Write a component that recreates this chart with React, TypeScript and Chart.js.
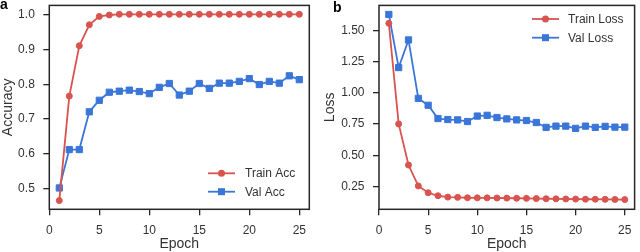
import React, { useEffect, useRef } from "react";
import { Chart, registerables } from "chart.js";

Chart.register(...registerables);

// ---------- data ----------
const epochs = [1, 2, 3, 4, 5, 6, 7, 8, 9, 10, 11, 12, 13, 14, 15, 16, 17, 18, 19, 20, 21, 22, 23, 24, 25];
const trainAcc = [0.467, 0.766, 0.91, 0.97, 0.994, 0.998, 1.0, 1.0, 1.0, 1.0, 1.0, 1.0, 1.0, 1.0, 1.0, 1.0, 1.0, 1.0, 1.0, 1.0, 1.0, 1.0, 1.0, 1.0, 1.0];
const valAcc = [0.503, 0.613, 0.613, 0.721, 0.754, 0.777, 0.78, 0.783, 0.779, 0.773, 0.791, 0.802, 0.769, 0.78, 0.802, 0.788, 0.803, 0.803, 0.808, 0.816, 0.799, 0.808, 0.803, 0.824, 0.813];
const trainLoss = [1.561, 0.752, 0.421, 0.253, 0.198, 0.174, 0.163, 0.161, 0.158, 0.157, 0.157, 0.156, 0.155, 0.154, 0.153, 0.151, 0.15, 0.149, 0.148, 0.147, 0.146, 0.146, 0.145, 0.144, 0.143];
const valLoss = [1.632, 1.205, 1.427, 0.957, 0.902, 0.795, 0.787, 0.784, 0.771, 0.815, 0.821, 0.803, 0.792, 0.784, 0.779, 0.763, 0.724, 0.734, 0.734, 0.716, 0.734, 0.724, 0.732, 0.726, 0.726];

const epochTicks = [0, 5, 10, 15, 20, 25];
const accTicks = [0.5, 0.6, 0.7, 0.8, 0.9, 1.0];
const lossTicks = [0.25, 0.5, 0.75, 1.0, 1.25, 1.5];

const accLabels = ["Train Acc", "Val Acc"];
const lossLabels = ["Train Loss", "Val Loss"];

// ---------- style ----------
const RED = "#d9534f";
const BLUE = "#3a76d8";
const INK = "#262626";
const TEXT = "#333333";
const FONT = "'Liberation Sans', Arial, Helvetica, sans-serif";

const framePlugin = {
  id: "frame",
  afterDatasetsDraw(chart: any) {
    const { ctx, chartArea: a } = chart;
    ctx.save();
    ctx.strokeStyle = INK;
    ctx.lineWidth = 1.5;
    ctx.strokeRect(a.left, a.top, a.right - a.left, a.bottom - a.top);
    ctx.restore();
  },
};

const innerLegendPlugin = {
  id: "innerLegend",
  afterDraw(chart: any, _args: any, opts: any) {
    const { ctx } = chart;
    ctx.save();
    chart.data.datasets.forEach((ds: any, i: number) => {
      const y = opts.y + i * opts.gap;
      ctx.strokeStyle = ds.borderColor;
      ctx.lineWidth = ds.borderWidth;
      ctx.beginPath();
      ctx.moveTo(opts.x, y);
      ctx.lineTo(opts.x + opts.len, y);
      ctx.stroke();
      const cx = opts.x + opts.len / 2;
      ctx.fillStyle = ds.pointBackgroundColor;
      if (ds.pointStyle === "rect") {
        ctx.fillRect(cx - 3.5, y - 3.5, 7, 7);
      } else {
        ctx.beginPath();
        ctx.arc(cx, y, 3.5, 0, Math.PI * 2);
        ctx.fill();
      }
      ctx.fillStyle = TEXT;
      ctx.font = `12px ${FONT}`;
      ctx.textBaseline = "middle";
      ctx.textAlign = "left";
      ctx.fillText(ds.label, opts.x + opts.len + opts.textGap, y + 0.5);
    });
    ctx.restore();
  },
};

const panelLabelPlugin = {
  id: "panelLabel",
  afterDraw(chart: any, _args: any, opts: any) {
    const { ctx } = chart;
    ctx.save();
    ctx.fillStyle = "#000";
    ctx.font = `bold 14px ${FONT}`;
    ctx.textBaseline = "alphabetic";
    ctx.textAlign = "left";
    ctx.fillText(opts.text, opts.x, opts.y);
    ctx.restore();
  },
};

type PanelProps = {
  labels: string[];
  train: number[];
  val: number[];
  yTicks: number[];
  yMin: number;
  yMax: number;
  yTitle: string;
  yDigits: number;
  yWidth: number;
  yTitlePad: number;
  padRight: number;
  legend: { x: number; y: number; gap: number; len: number; textGap: number };
  panel: { text: string; x: number; y: number };
};

function Panel(p: PanelProps) {
  const ref = useRef<HTMLCanvasElement | null>(null);
  useEffect(() => {
    if (!ref.current) return;
    const chart = new Chart(ref.current, {
      type: "line",
      data: {
        datasets: [
          {
            label: p.labels[0],
            data: epochs.map((e, i) => ({ x: e, y: p.train[i] })),
            borderColor: RED,
            backgroundColor: RED,
            pointBackgroundColor: RED,
            pointBorderColor: RED,
            borderWidth: 1.8,
            pointStyle: "circle",
            pointRadius: 3,
            pointBorderWidth: 1,
            tension: 0,
          },
          {
            label: p.labels[1],
            data: epochs.map((e, i) => ({ x: e, y: p.val[i] })),
            borderColor: BLUE,
            backgroundColor: BLUE,
            pointBackgroundColor: BLUE,
            pointBorderColor: BLUE,
            borderWidth: 1.8,
            pointStyle: "rect",
            pointRadius: 4.4,
            pointBorderWidth: 1,
            tension: 0,
          },
        ],
      },
      options: {
        responsive: false,
        animation: false,
        events: [],
        layout: { padding: { top: 3.3, right: p.padRight, left: 0, bottom: 0 } },
        plugins: {
          legend: { display: false },
          tooltip: { enabled: false },
          innerLegend: p.legend,
          panelLabel: p.panel,
        } as any,
        scales: {
          x: {
            type: "linear",
            min: 0,
            max: 26,
            afterBuildTicks: (s: any) => {
              s.ticks = epochTicks.map((v) => ({ value: v }));
            },
            afterFit: (s: any) => {
              s.height = 42.7;
              s.paddingLeft = 0;
              s.paddingRight = 0;
            },
            ticks: {
              color: TEXT,
              font: { family: FONT, size: 12 },
              padding: 8,
              maxRotation: 0,
              callback: (v: any) => String(v),
            },
            grid: {
              display: true,
              drawOnChartArea: false,
              drawTicks: true,
              tickLength: 6,
              color: INK,
              lineWidth: 1.3,
            },
            border: { display: false },
            title: {
              display: true,
              text: "Epoch",
              color: TEXT,
              font: { family: FONT, size: 14 },
              padding: { top: 0, bottom: -1 },
            },
          },
          y: {
            type: "linear",
            min: p.yMin,
            max: p.yMax,
            afterBuildTicks: (s: any) => {
              s.ticks = p.yTicks.map((v) => ({ value: v }));
            },
            afterFit: (s: any) => {
              s.width = p.yWidth;
              s.paddingTop = 0;
              s.paddingBottom = 0;
            },
            ticks: {
              color: TEXT,
              font: { family: FONT, size: 12 },
              padding: 8.5,
              callback: (v: any) => Number(v).toFixed(p.yDigits),
            },
            grid: {
              display: true,
              drawOnChartArea: false,
              drawTicks: true,
              tickLength: 6,
              color: INK,
              lineWidth: 1.3,
            },
            border: { display: false },
            title: {
              display: true,
              text: p.yTitle,
              color: TEXT,
              font: { family: FONT, size: 14 },
              padding: { top: p.yTitlePad, bottom: 0 },
            },
          },
        },
      },
      plugins: [framePlugin, innerLegendPlugin, panelLabelPlugin],
    } as any);
    return () => chart.destroy();
  }, []);
  return <canvas ref={ref} width={320} height={252} style={{ display: "block", width: 320, height: 252 }} />;
}

export default function App() {
  return (
    <div style={{ position: "fixed", left: 0, top: 0, width: 640, height: 252, background: "#fff", display: "flex" }}>
      <Panel
        labels={accLabels}
        train={trainAcc}
        val={valAcc}
        yTicks={accTicks}
        yMin={0.442}
        yMax={1.0255}
        yTitle="Accuracy"
        yDigits={1}
        yWidth={49.3}
        yTitlePad={-0.5}
        padRight={10.7}
        legend={{ x: 208, y: 173.3, gap: 18.4, len: 27, textGap: 10 }}
        panel={{ text: "a", x: 0, y: 9 }}
      />
      <Panel
        labels={lossLabels}
        train={trainLoss}
        val={valLoss}
        yTicks={lossTicks}
        yMin={0.065}
        yMax={1.705}
        yTitle="Loss"
        yDigits={2}
        yWidth={59}
        yTitlePad={2}
        padRight={2}
        legend={{ x: 212, y: 19, gap: 18.7, len: 27, textGap: 9 }}
        panel={{ text: "b", x: 13, y: 11.7 }}
      />
    </div>
  );
}
